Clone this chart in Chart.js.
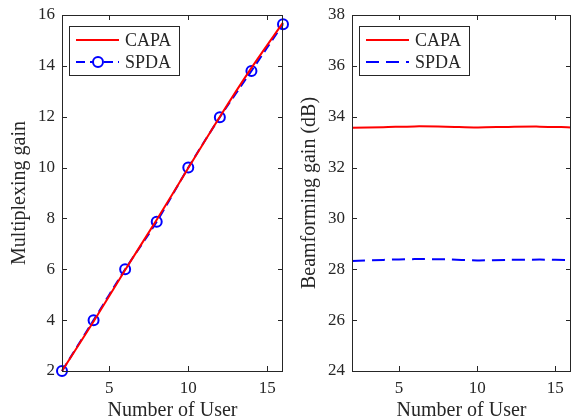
<!DOCTYPE html>
<html>
<head>
  <title>Multiplexing and beamforming gain</title>
  <script src="https://cdn.jsdelivr.net/npm/chart.js"></script>
  <style>
    body { margin: 0; background: #fff; }
    #left { position: absolute; left: 0; top: 0; }
    #right { position: absolute; left: 290px; top: 0; }
  </style>
</head>
<body>
  <canvas id="left" width="290" height="419"></canvas>
  <canvas id="right" width="282" height="419"></canvas>

  <script>
    // data
    var users = [2, 4, 6, 8, 10, 12, 14, 16];
    var capaMux = [2, 3.95, 5.97, 7.95, 9.98, 12.0, 13.92, 15.7];
    var spdaMux = [2, 4.0, 6.0, 7.87, 10.0, 11.98, 13.8, 15.64];
    var capaBf = [33.57, 33.59, 33.62, 33.61, 33.58, 33.60, 33.61, 33.58];
    var spdaBf = [28.33, 28.37, 28.40, 28.39, 28.35, 28.37, 28.38, 28.36];
    var xTicks = [5, 10, 15];
    var muxTicks = [2, 4, 6, 8, 10, 12, 14, 16];
    var bfTicks = [24, 26, 28, 30, 32, 34, 36, 38];

    var ink = '#262626';
    var serif = '"Liberation Serif", "DejaVu Serif", serif';

    function pts(ys) {
      return users.map(function (u, i) { return { x: u, y: ys[i] }; });
    }

    // box around axes with inward ticks, matlab style
    var framePlugin = {
      id: 'frame',
      afterDraw: function (chart) {
        var a = chart.chartArea, ctx = chart.ctx;
        var xs = chart.scales.x, ys = chart.scales.y;
        ctx.save();
        ctx.strokeStyle = ink;
        ctx.lineWidth = 1;
        ctx.strokeRect(Math.round(a.left) + 0.5, Math.round(a.top) + 0.5,
          Math.round(a.right - a.left) - 1, Math.round(a.bottom - a.top));
        ctx.beginPath();
        xs.ticks.forEach(function (t) {
          var px = Math.round(xs.getPixelForValue(t.value)) + 0.5;
          ctx.moveTo(px, a.bottom); ctx.lineTo(px, a.bottom - 5);
          ctx.moveTo(px, a.top); ctx.lineTo(px, a.top + 5);
        });
        ys.ticks.forEach(function (t) {
          var py = Math.round(ys.getPixelForValue(t.value)) + 0.5;
          ctx.moveTo(a.left, py); ctx.lineTo(a.left + 5, py);
          ctx.moveTo(a.right, py); ctx.lineTo(a.right - 5, py);
        });
        ctx.stroke();
        ctx.restore();
      }
    };

    // boxed legend in the upper left corner
    var legendPlugin = {
      id: 'boxLegend',
      afterDraw: function (chart) {
        var a = chart.chartArea, ctx = chart.ctx;
        var x0 = a.left + 7, y0 = a.top + 11, w = 110, h = 49;
        ctx.save();
        ctx.fillStyle = '#fff';
        ctx.fillRect(x0, y0, w, h);
        ctx.strokeStyle = ink;
        ctx.lineWidth = 1;
        ctx.strokeRect(x0 + 0.5, y0 + 0.5, w, h);
        ctx.font = '18px ' + serif;
        ctx.textBaseline = 'middle';
        chart.data.datasets.forEach(function (ds, i) {
          var cy = y0 + 14 + i * 22;
          ctx.strokeStyle = ds.borderColor;
          ctx.lineWidth = ds.borderWidth;
          ctx.setLineDash(ds.borderDash || []);
          ctx.beginPath();
          ctx.moveTo(x0 + 7, cy); ctx.lineTo(x0 + 50, cy);
          ctx.stroke();
          ctx.setLineDash([]);
          if (ds.pointRadius > 0) {
            ctx.fillStyle = '#fff';
            ctx.beginPath();
            ctx.arc(x0 + 29, cy, ds.pointRadius, 0, Math.PI * 2);
            ctx.fill();
            ctx.lineWidth = ds.pointBorderWidth;
            ctx.stroke();
          }
          ctx.fillStyle = ink;
          ctx.fillText(ds.label, x0 + 56, cy + 1);
        });
        ctx.restore();
      }
    };

    function makeChart(id, capa, spda, yTicks, yTitle, markers, padRight) {
      var ctx = document.getElementById(id).getContext('2d');
      return new Chart(ctx, {
        type: 'line',
        data: {
          datasets: [{
            label: 'CAPA',
            data: pts(capa),
            borderColor: '#ff0000',
            borderWidth: 2,
            pointRadius: 0,
            tension: 0.3,
            clip: false
          }, {
            label: 'SPDA',
            data: pts(spda),
            borderColor: '#0000ff',
            borderWidth: 2,
            borderDash: markers ? [9, 5] : [13, 7],
            pointRadius: markers ? 5 : 0,
            pointBorderWidth: 2,
            pointBackgroundColor: 'rgba(255,255,255,0)',
            pointBorderColor: '#0000ff',
            tension: 0.3,
            clip: false
          }]
        },
        options: {
          responsive: false,
          animation: false,
          layout: { padding: { top: 15, right: padRight, bottom: 0, left: 0 } },
          plugins: { legend: { display: false }, tooltip: { enabled: false } },
          scales: {
            x: {
              type: 'linear',
              min: 2, max: 16,
              afterBuildTicks: function (s) { s.ticks = xTicks.map(function (v) { return { value: v }; }); },
              afterFit: function (s) { s.height = 48; s.paddingLeft = 0; s.paddingRight = 0; },
              grid: { display: false, drawTicks: false },
              border: { display: false },
              ticks: { color: ink, font: { family: serif, size: 17 }, padding: 7, maxRotation: 0 },
              title: { display: true, text: 'Number of User', color: ink, font: { family: serif, size: 20 }, padding: { top: 0, bottom: -4 } }
            },
            y: {
              min: yTicks[0], max: yTicks[yTicks.length - 1],
              afterBuildTicks: function (s) { s.ticks = yTicks.map(function (v) { return { value: v }; }); },
              afterFit: function (s) { s.width = 62; s.paddingTop = 0; s.paddingBottom = 0; },
              grid: { display: false, drawTicks: false },
              border: { display: false },
              ticks: { color: ink, font: { family: serif, size: 17 }, padding: 7 },
              title: { display: true, text: yTitle, color: ink, font: { family: serif, size: 20 }, padding: { top: 8, bottom: 0 } }
            }
          }
        },
        plugins: [framePlugin, legendPlugin]
      });
    }

    makeChart('left', capaMux, spdaMux, muxTicks, 'Multiplexing gain', true, 7);
    makeChart('right', capaBf, spdaBf, bfTicks, 'Beamforming gain (dB)', false, 1);
  </script>
</body>
</html>
